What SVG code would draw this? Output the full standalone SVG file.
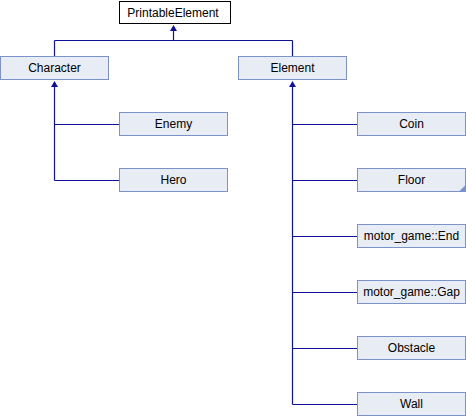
<svg xmlns="http://www.w3.org/2000/svg" width="466" height="416" viewBox="0 0 466 416">
<style>
.n rect{fill:#E8ECF5;stroke:#7B93C9;stroke-width:1}
.root rect{fill:#FFFFFF;stroke:#000000;stroke-width:1}
text{font-family:"Liberation Sans",Arial,sans-serif;font-size:12px;fill:#000;text-anchor:middle}
.e line{stroke:#10109F;stroke-width:1.2;fill:none}
.e polygon{fill:#10109F;stroke:none}
</style>
<rect width="466" height="416" fill="#FFFFFF"/>
<g class="e" id="connectors">
<line x1="173.5" y1="28" x2="173.5" y2="40.5"/>
<line x1="54.5" y1="40.5" x2="292.5" y2="40.5"/>
<line x1="54.5" y1="40.5" x2="54.5" y2="56"/>
<line x1="292.5" y1="40.5" x2="292.5" y2="56"/>
<polygon points="173.5,25 170,31 177,31"/>
<line x1="54.5" y1="84" x2="54.5" y2="180.5"/>
<line x1="54.5" y1="124.5" x2="119" y2="124.5"/>
<line x1="54.5" y1="180.5" x2="119" y2="180.5"/>
<polygon points="54.5,81 51,87 58,87"/>
<line x1="292.5" y1="84" x2="292.5" y2="404.5"/>
<line x1="292.5" y1="124.5" x2="357" y2="124.5"/>
<line x1="292.5" y1="180.5" x2="357" y2="180.5"/>
<line x1="292.5" y1="236.5" x2="357" y2="236.5"/>
<line x1="292.5" y1="292.5" x2="357" y2="292.5"/>
<line x1="292.5" y1="348.5" x2="357" y2="348.5"/>
<line x1="292.5" y1="404.5" x2="357" y2="404.5"/>
<polygon points="292.5,81 289,87 296,87"/>
</g>
<g class="root" id="PrintableElement"><rect x="119.5" y="1.5" width="111" height="22"/><text x="173" y="17">PrintableElement</text></g>
<g class="n" id="Character"><rect x="0.5" y="56.5" width="108" height="23"/><text x="54.5" y="72">Character</text></g>
<g class="n" id="Element"><rect x="238.5" y="56.5" width="108" height="23"/><text x="292.5" y="72">Element</text></g>
<g class="n" id="Enemy"><rect x="119.5" y="112.5" width="108" height="23"/><text x="173.5" y="128">Enemy</text></g>
<g class="n" id="Hero"><rect x="119.5" y="168.5" width="108" height="23"/><text x="173.5" y="184">Hero</text></g>
<g class="n" id="Coin"><rect x="357.5" y="112.5" width="108" height="23"/><text x="411.5" y="128">Coin</text></g>
<g class="n" id="Floor"><rect x="357.5" y="168.5" width="108" height="23"/><text x="411.5" y="184">Floor</text><polygon points="465.5,185 465.5,191.5 459,191.5" fill="#7B93C9"/></g>
<g class="n" id="End"><rect x="357.5" y="224.5" width="108" height="23"/><text x="411.5" y="240">motor_game::End</text></g>
<g class="n" id="Gap"><rect x="357.5" y="280.5" width="108" height="23"/><text x="411.5" y="296">motor_game::Gap</text></g>
<g class="n" id="Obstacle"><rect x="357.5" y="336.5" width="108" height="23"/><text x="411.5" y="352">Obstacle</text></g>
<g class="n" id="Wall"><rect x="357.5" y="392.5" width="108" height="23"/><text x="411.5" y="408">Wall</text></g>
</svg>
